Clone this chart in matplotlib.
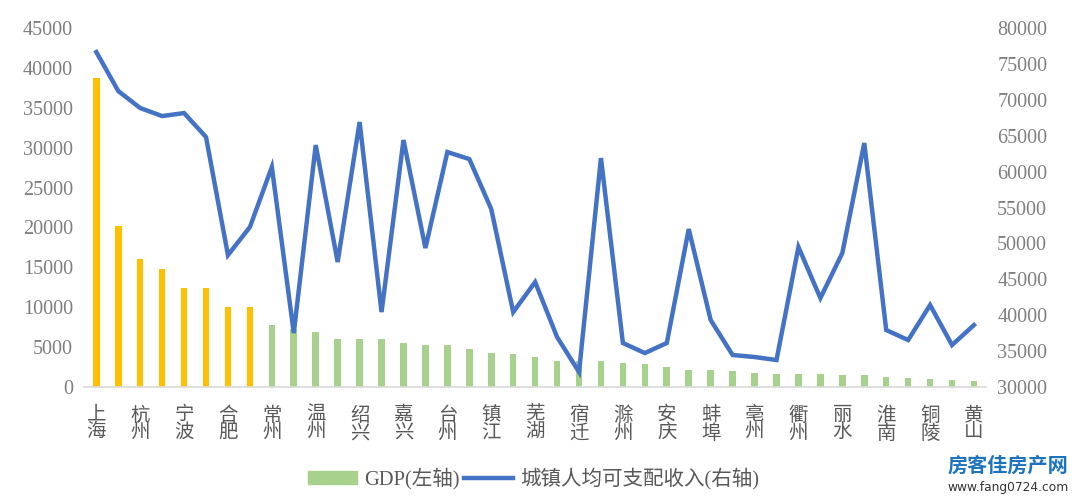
import matplotlib
matplotlib.use('Agg')
import matplotlib.pyplot as plt
from matplotlib.patches import Patch
from matplotlib.lines import Line2D

plt.rcParams['font.family'] = ['Liberation Serif', 'Noto Sans CJK SC', 'DejaVu Sans']

# 长三角41城 GDP(亿元) 与 城镇人均可支配收入(元)
cities = ['上海', '苏州', '杭州', '南京', '宁波', '无锡', '合肥', '南通', '常州', '徐州',
          '温州', '盐城', '绍兴', '扬州', '嘉兴', '泰州', '台州', '金华', '镇江', '淮安',
          '芜湖', '连云港', '宿迁', '湖州', '滁州', '阜阳', '安庆', '马鞍山', '蚌埠', '宿州',
          '亳州', '六安', '衢州', '舟山', '丽水', '宣城', '淮南', '淮北', '铜陵', '池州', '黄山']
gdp = [38700, 20170, 16106, 14818, 12409, 12370, 10046, 10036, 7805, 7319,
       6871, 6030, 6030, 6030, 5570, 5320, 5320, 4730, 4230, 4100,
       3730, 3230, 3260, 3230, 2970, 2890, 2510, 2180, 2135, 2010,
       1800, 1670, 1670, 1670, 1545, 1545, 1295, 1170, 1040, 920, 790]
income = [76660, 71230, 68860, 67740, 68160, 64820, 48380, 52280, 60640, 37520,
          63700, 47410, 66910, 40440, 64400, 49360, 62730, 61750, 54790, 40440,
          44620, 36960, 32090, 61890, 36130, 34730, 36130, 52000, 39330, 34460,
          34180, 33760, 49500, 42390, 48660, 63980, 37940, 36540, 41420, 35850, 38630]
n_orange = 8

gray = '#7f7f7f'
orange = '#FFC000'
green = '#A9D18E'
blue = '#4472C4'

fig = plt.figure(figsize=(10.8, 5.01), dpi=100)
ax = fig.add_axes([0.078, 0.2275, 0.835, 0.7165])
x = list(range(len(cities)))
colors = [orange if i < n_orange else green for i in x]
ax.bar(x, gdp, width=0.3, color=colors, zorder=2)
ax.set_ylim(0, 45000)
ax.set_xlim(-0.55, len(cities) - 0.45)
ax.set_yticks(range(0, 45001, 5000))

ax2 = ax.twinx()
ax2.plot(x, income, color=blue, lw=3.2, solid_joinstyle='miter', zorder=3)
ax2.set_ylim(30000, 80000)
ax2.set_yticks(range(30000, 80001, 5000))

labels = ['\n'.join(c) if i % 2 == 0 else '' for i, c in enumerate(cities)]
ax.set_xticks(x)
ax.set_xticklabels(labels, fontsize=14, color='#595959', linespacing=1.0)

for a in (ax, ax2):
    for s in a.spines.values():
        s.set_visible(False)
    a.tick_params(length=0, labelsize=14.5, labelcolor=gray)
ax.spines['bottom'].set_visible(True)
ax.spines['bottom'].set_color('#d9d9d9')
ax.spines['bottom'].set_linewidth(1.2)
ax.tick_params(axis='x', pad=14, labelsize=14, labelcolor='#595959')
ax.tick_params(axis='y', pad=8)
ax2.tick_params(axis='y', pad=8)

handles = [Patch(color=green, label='GDP(左轴)'),
           Line2D([0], [0], color=blue, lw=3.2, label='城镇人均可支配收入(右轴)')]
leg = fig.legend(handles=handles, loc='center', bbox_to_anchor=(0.494, 0.045), ncol=2,
                 frameon=False, fontsize=14.8, handlelength=2.4, handleheight=0.6,
                 columnspacing=0.2, handletextpad=0.35)
for t in leg.get_texts():
    t.set_color('#595959')

# 水印
fig.text(0.877, 0.072, '房客佳房产网', fontsize=14.5, fontweight='bold', color='#1E73BE',
         family=['Noto Sans CJK SC'], va='center', ha='left')
fig.text(0.877, 0.026, 'www.fang0724.com', fontsize=8.8, color='#333333',
         family=['DejaVu Sans'], va='center', ha='left')

plt.savefig('out.png', dpi=100)
